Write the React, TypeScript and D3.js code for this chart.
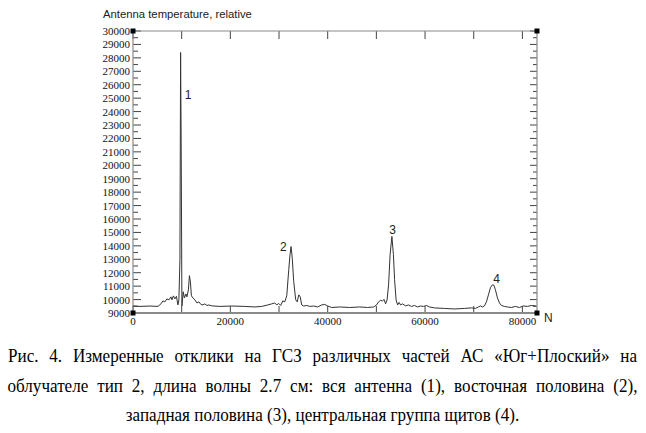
import React, { useEffect, useRef, useState } from "react";
import * as d3 from "d3";

const sampleN = [
  0, 1440, 3490, 5130, 5740, 6150, 6560, 6970, 7380, 7790, 8000, 8300, 8610, 8920, 9230, 9430, 9640, 9780, 9900, 10050,
  10320, 10560, 10870, 11080, 11380, 11590, 11790, 12000, 12310, 12720, 13130, 13540, 13950, 14360, 14770, 15180, 15590, 16200,
  17840, 20300, 22970, 25020, 26460, 27690, 28510, 29120, 29530, 29940, 30350, 30770, 31180, 31590, 32000, 32260, 32470, 32710,
  33020, 33430, 33740, 34050, 34360, 34660, 35070, 35690, 36300, 37120, 37940, 38760, 39380, 39990, 40810, 42460, 44510, 46560,
  48200, 49430, 50040, 50450, 50860, 51270, 51580, 51890, 52200, 52510, 52820, 53190, 53500, 53740, 54050, 54360, 54670, 54970,
  55380, 55990, 56610, 57220, 57840, 58450, 59070, 59680, 60300, 60910, 61940, 63990, 66040, 68090, 69530, 70350, 70970, 71380,
  71790, 72200, 72610, 73020, 73430, 73840, 74150, 74460, 74870, 75280, 75690, 76300, 76920, 77740, 78560, 79380, 80200, 81010,
  81840, 82770,
];
const temperature = [
  9525, 9490, 9520, 9490, 9680, 9900, 9830, 10050, 9980, 10200, 9980, 10275, 10050, 10240, 9600, 9980, 12980, 28400, 21200, 9520,
  10580, 10120, 10420, 10200, 10720, 11780, 11320, 10280, 10120, 9980, 9750, 9830, 9640, 9600, 9680, 9560, 9600, 9530,
  9490, 9520, 9490, 9450, 9490, 9600, 9680, 9750, 9600, 9710, 9560, 9900, 9830, 10280, 12230, 13350, 13950, 13130,
  11330, 9980, 9830, 10350, 10200, 9600, 9520, 9560, 9490, 9520, 9450, 9600, 9640, 9525, 9410, 9450, 9410, 9450,
  9410, 9450, 9600, 9830, 9940, 9900, 10010, 9680, 9980, 11100, 13350, 14700, 13350, 11480, 9980, 9600, 9790, 9600,
  9680, 9530, 9600, 9490, 9560, 9450, 9520, 9490, 9560, 9450, 9380, 9340, 9300, 9340, 9380, 9340, 9450, 9525,
  9450, 9525, 9830, 10350, 10880, 11100, 11060, 10730, 10130, 9750, 9560, 9490, 9450, 9410, 9490, 9410, 9525, 9490,
  9560, 9525,
];

const yTickValues = [9000, 10000, 11000, 12000, 13000, 14000, 15000, 16000, 17000, 18000, 19000, 20000, 21000, 22000, 23000, 24000, 25000, 26000, 27000, 28000, 29000, 30000];
const xTickValues = [0, 10000, 20000, 30000, 40000, 50000, 60000, 70000, 80000];
const xLabelValues = [0, 20000, 40000, 60000, 80000];

const peakLabels = ["1", "2", "3", "4"];
const peakN = [11300, 30880, 53350, 74720];
const peakV = [24900, 13600, 14880, 11230];

const title = "Antenna temperature, relative";
const xAxisName = "N";
const captionLines = [
  "Рис. 4. Измеренные отклики на ГСЗ различных частей АС «Юг+Плоский» на",
  "облучателе тип 2, длина волны 2.7 см: вся антенна (1), восточная половина (2),",
  "западная половина (3), центральная группа щитов (4).",
];
const captionJustify = [629, 630, 0];

export default function App() {
  const left = 133, right = 537, top = 31, bottom = 313;
  const x = d3.scaleLinear().domain([0, 83000]).range([left, right]);
  const y = d3.scaleLinear().domain([9000, 30000]).range([bottom, top]);
  const pts: [number, number][] = sampleN.map((n, i) => [n, temperature[i]]);
  const line = d3.line<[number, number]>().x((d) => x(d[0])).y((d) => y(d[1]));
  const minor = yTickValues.slice(0, -1).map((v) => v + 500);
  const axisColor = "#8a8a8a";
  const tickColor = "#444";
  const serif = "'Liberation Serif', 'Times New Roman', serif";
  const sans = "'Liberation Sans', Arial, sans-serif";
  const capScale = 0.95;

  const capRefs = useRef<(SVGTextElement | null)[]>([]);
  const [wordSp, setWordSp] = useState<number[]>([0, 0, 0]);
  useEffect(() => {
    const ws = captionLines.map((t, i) => {
      const el = capRefs.current[i];
      if (!el || !captionJustify[i]) return 0;
      const natural = el.getComputedTextLength();
      const spaces = (t.match(/ /g) || []).length;
      const target = captionJustify[i] / capScale;
      return Math.max(0, (target - natural) / spaces);
    });
    setWordSp(ws);
  }, []);

  return (
    <svg width={646} height={433} style={{ position: "absolute", left: 0, top: 0, background: "#fff" }}>
      <rect x={0} y={0} width={646} height={433} fill="#fff" />
      <text x={103} y={18} fontFamily={sans} fontSize={11.3} fill="#222">{title}</text>

      {yTickValues.map((v) => (
        <g key={"yl" + v}>
          <line x1={left} x2={left + 8} y1={y(v)} y2={y(v)} stroke={tickColor} strokeWidth={1} />
          <line x1={right} x2={right - 7} y1={y(v)} y2={y(v)} stroke={tickColor} strokeWidth={1} />
          <text x={130} y={y(v) + 4} textAnchor="end" fontFamily={serif} fontSize={11} fill="#111">{v}</text>
        </g>
      ))}
      {minor.map((v) => (
        <g key={"ym" + v}>
          <line x1={left} x2={left + 5} y1={y(v)} y2={y(v)} stroke={tickColor} strokeWidth={1} />
          <line x1={right} x2={right - 4} y1={y(v)} y2={y(v)} stroke={tickColor} strokeWidth={1} />
        </g>
      ))}
      {xTickValues.map((v) => (
        <g key={"xt" + v}>
          <line x1={x(v)} x2={x(v)} y1={bottom} y2={bottom - 7} stroke={tickColor} strokeWidth={1} />
          <line x1={x(v)} x2={x(v)} y1={top} y2={top + 8} stroke={tickColor} strokeWidth={1} />
        </g>
      ))}
      {xLabelValues.map((v) => (
        <text key={"xl" + v} x={x(v)} y={325} textAnchor="middle" fontFamily={serif} fontSize={11} fill="#111">{v}</text>
      ))}

      <line x1={left} x2={right} y1={top} y2={top} stroke={axisColor} strokeWidth={1.2} />
      <line x1={left} x2={right} y1={bottom} y2={bottom} stroke={axisColor} strokeWidth={2} />
      <line x1={left} x2={left} y1={top} y2={bottom} stroke={axisColor} strokeWidth={1.2} />
      <line x1={right} x2={right} y1={top} y2={bottom} stroke={axisColor} strokeWidth={1.2} />
      {[[left, top], [left, bottom], [right, top], [right, bottom]].map(([cx, cy], i) => (
        <rect key={"c" + i} x={cx - 2.5} y={cy - 2.5} width={5} height={5} fill="#000" />
      ))}

      <path d={line(pts) || ""} fill="none" stroke="#333" strokeWidth={1} strokeLinejoin="round" />

      {peakLabels.map((l, i) => (
        <text key={"p" + l} x={x(peakN[i])} y={y(peakV[i])} textAnchor="middle" fontFamily={sans} fontSize={12} fill="#222">{l}</text>
      ))}

      <text x={544} y={322} fontFamily={sans} fontSize={12} fill="#222">{xAxisName}</text>

      {captionLines.map((t, i) => (
        <text key={"cap" + i} ref={(el) => { capRefs.current[i] = el; }}
          transform={`translate(322.5, ${362 + i * 29.5}) scale(${capScale}, 1)`}
          textAnchor="middle" fontFamily={serif} fontSize={18}
          style={{ wordSpacing: `${wordSp[i]}px` }} fill="#000">{t}</text>
      ))}
    </svg>
  );
}
